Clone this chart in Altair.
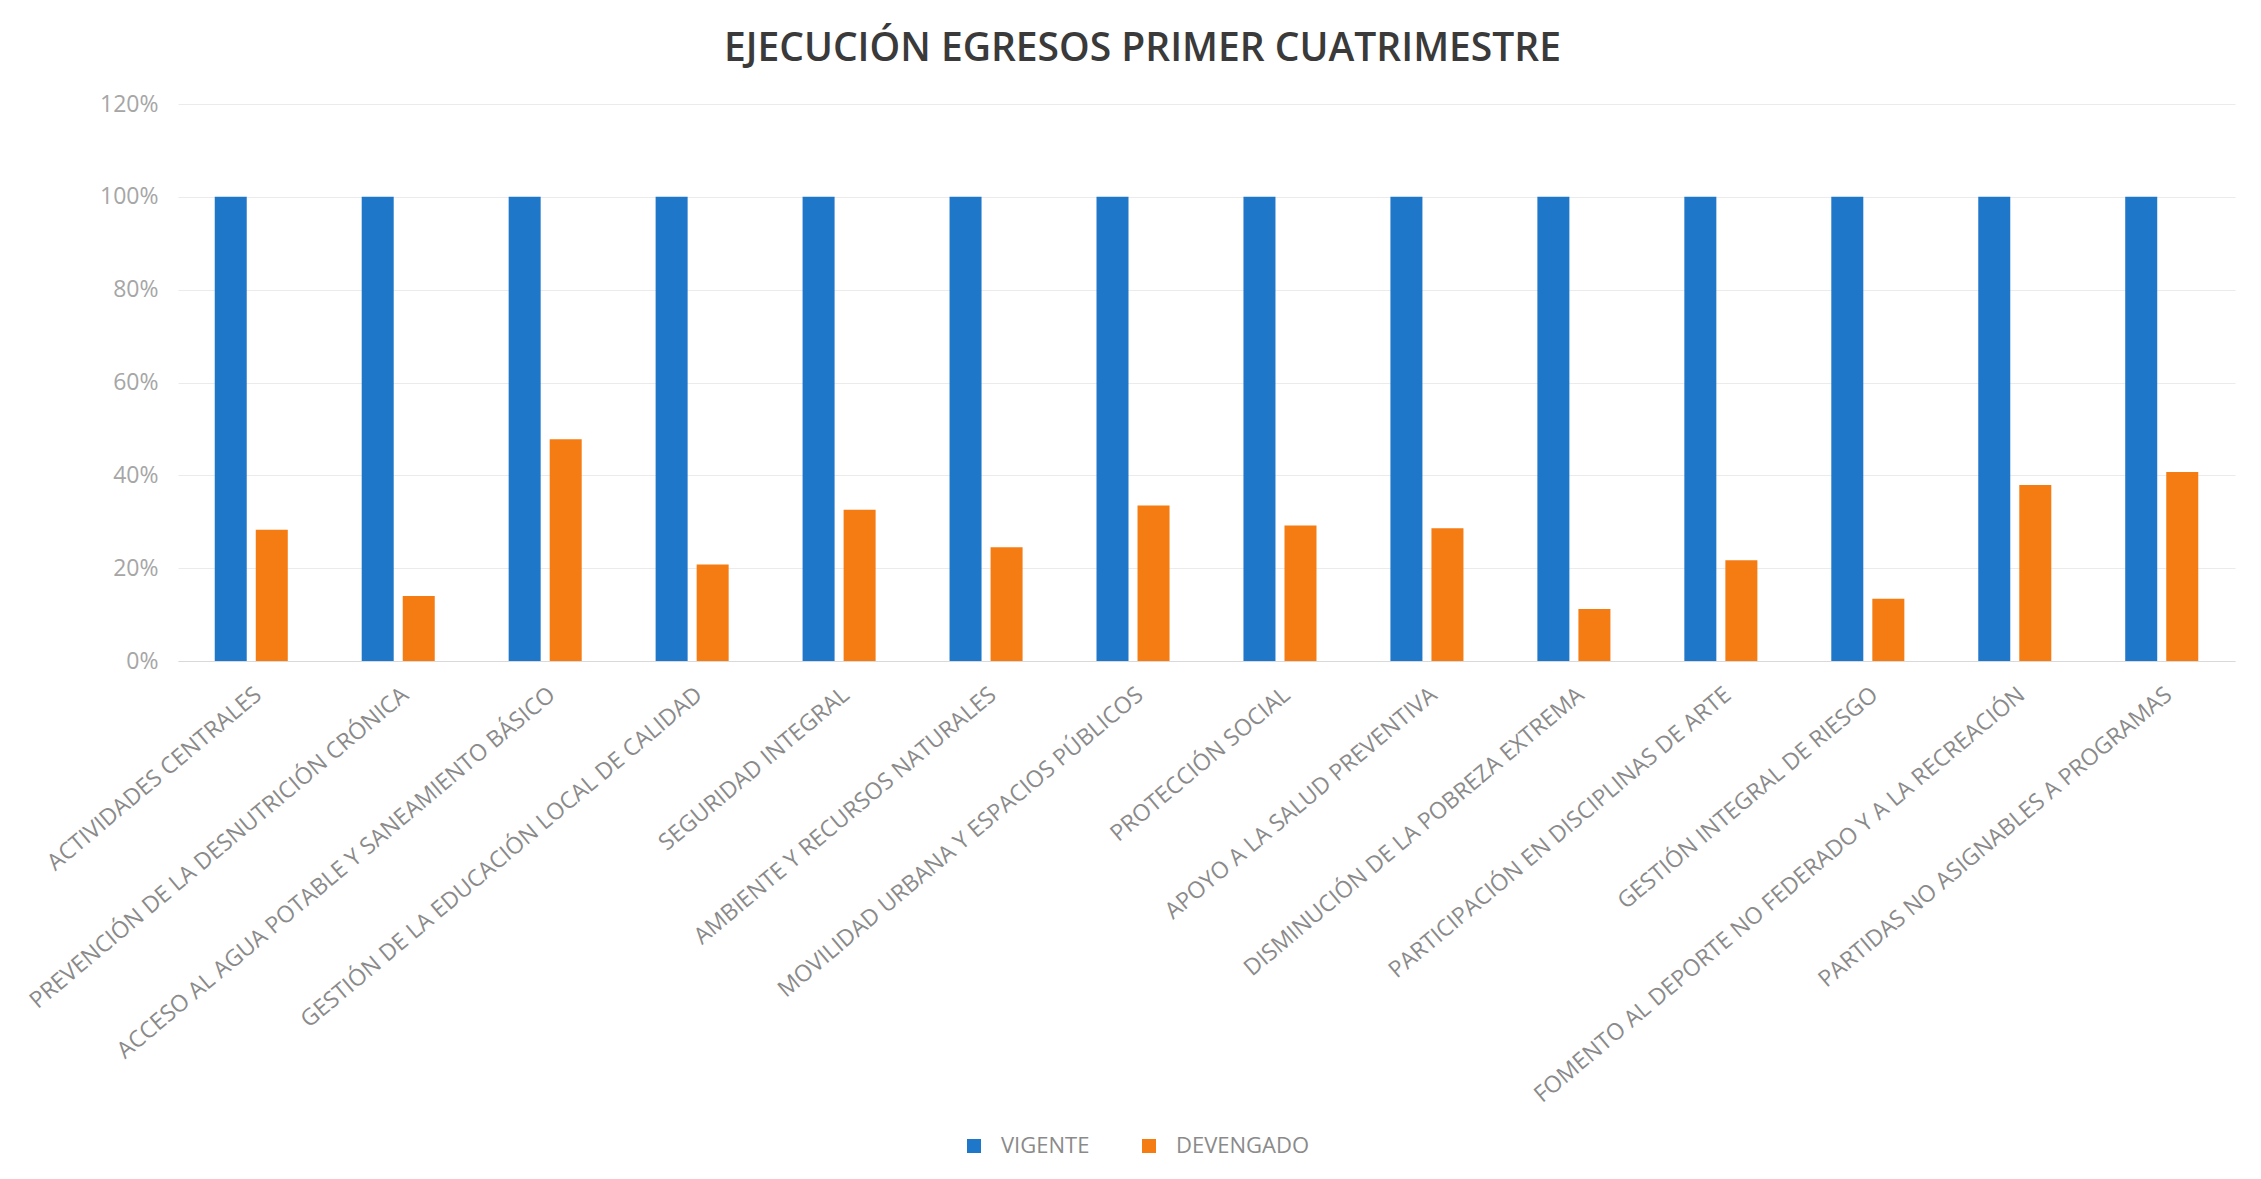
import altair as alt
import pandas as pd

categorias = [
    "ACTIVIDADES CENTRALES",
    "PREVENCIÓN DE LA DESNUTRICIÓN CRÓNICA",
    "ACCESO AL AGUA POTABLE Y SANEAMIENTO BÁSICO",
    "GESTIÓN DE LA EDUCACIÓN LOCAL DE CALIDAD",
    "SEGURIDAD INTEGRAL",
    "AMBIENTE Y RECURSOS NATURALES",
    "MOVILIDAD URBANA Y ESPACIOS PÚBLICOS",
    "PROTECCIÓN SOCIAL",
    "APOYO A LA SALUD PREVENTIVA",
    "DISMINUCIÓN DE LA POBREZA EXTREMA",
    "PARTICIPACIÓN EN DISCIPLINAS DE ARTE",
    "GESTIÓN INTEGRAL DE RIESGO",
    "FOMENTO AL DEPORTE NO FEDERADO Y A LA RECREACIÓN",
    "PARTIDAS NO ASIGNABLES A PROGRAMAS",
]
vigente = [1.0] * 14
devengado = [0.283, 0.140, 0.478, 0.208, 0.326, 0.245, 0.335, 0.292, 0.286, 0.112, 0.217, 0.134, 0.379, 0.407]
series = ["VIGENTE", "DEVENGADO"]
colores = ["#1f77c9", "#f57c12"]
y_ticks = [0, 0.2, 0.4, 0.6, 0.8, 1.0, 1.2]

rows = []
for c, v, d in zip(categorias, vigente, devengado):
    rows.append({"Programa": c, "Serie": "VIGENTE", "Valor": v})
    rows.append({"Programa": c, "Serie": "DEVENGADO", "Valor": d})
df = pd.DataFrame(rows)

FONT = "Open Sans"

chart = alt.Chart(df).mark_bar().encode(
    x=alt.X(
        "Programa:N",
        sort=categorias,
        title=None,
        scale=alt.Scale(paddingInner=0.503, paddingOuter=0.25),
        axis=alt.Axis(
            labelAngle=-40,
            labelAlign="right",
            labelBaseline="top",
            labelFontSize=23,
            labelFont=FONT,
            labelColor="#8a8a8a",
            labelLimit=1000,
            labelPadding=22,
            ticks=False,
            domain=True,
            domainColor="#d9d9d9",
            domainWidth=1,
            grid=False,
        ),
    ),
    xOffset=alt.XOffset(
        "Serie:N",
        sort=series,
        scale=alt.Scale(paddingInner=0.22, paddingOuter=0),
    ),
    y=alt.Y(
        "Valor:Q",
        title=None,
        scale=alt.Scale(domain=[0, 1.2], nice=False),
        axis=alt.Axis(
            values=y_ticks,
            format=".0%",
            labelFontSize=23,
            labelFont=FONT,
            labelColor="#a6a6a6",
            labelPadding=20,
            ticks=False,
            domain=False,
            grid=True,
            gridColor="#ebebeb",
            gridWidth=1,
        ),
    ),
    color=alt.Color(
        "Serie:N",
        sort=series,
        scale=alt.Scale(domain=series, range=colores),
        legend=alt.Legend(
            title=None,
            orient="none",
            legendX=785,
            legendY=1031,
            direction="horizontal",
            symbolType="square",
            symbolSize=196,
            symbolStrokeWidth=0,
            labelFontSize=22,
            labelFont=FONT,
            labelColor="#8a8a8a",
            labelOffset=16,
            columnPadding=48,
            padding=0,
        ),
    ),
).properties(
    width=2057,
    height=557,
    title=alt.TitleParams(
        text="EJECUCIÓN EGRESOS PRIMER CUATRIMESTRE",
        font=FONT,
        fontSize=39,
        fontWeight=600,
        color="#3a3a3a",
        anchor="middle",
        dx=-64,
        offset=24,
    ),
    autosize=alt.AutoSizeParams(type="none"),
    padding={"left": 170, "top": 96, "right": 10, "bottom": 500},
    background="white",
).configure_view(stroke=None)

chart.save("out.html", embed_options={"renderer": "svg", "actions": False})
